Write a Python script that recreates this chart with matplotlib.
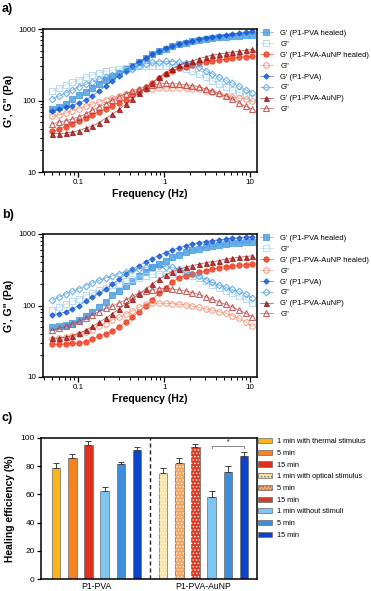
import matplotlib
matplotlib.use("Agg")
import numpy as np
from matplotlib import pyplot as plt
from matplotlib.patches import Patch

plt.rcParams['font.family'] = ['Liberation Sans', 'DejaVu Sans']
plt.rcParams['hatch.linewidth'] = 0.6

# frequency sweep (Hz)
freq = [0.05, 0.0598, 0.0714, 0.0854, 0.102, 0.122, 0.146, 0.174, 0.208, 0.249,
        0.298, 0.356, 0.425, 0.508, 0.608, 0.726, 0.868, 1.04, 1.24, 1.48,
        1.77, 2.12, 2.53, 3.03, 3.62, 4.32, 5.17, 6.18, 7.38, 8.83, 10.5]

# panel a
a_gp_healed = [75, 80, 90, 105, 118, 132, 150, 170, 195, 220, 245, 275, 305, 345, 390, 440,
               490, 530, 570, 610, 645, 680, 710, 735, 755, 770, 785, 800, 810, 820, 830]
a_gpp_healed = [135, 150, 165, 180, 195, 212, 228, 243, 255, 265, 277, 287, 295, 300, 303, 305,
                305, 302, 298, 290, 275, 255, 232, 210, 190, 172, 156, 142, 130, 120, 110]
a_gp_au_healed = [37, 40, 43, 47, 52, 57, 63, 69, 76, 85, 93, 103, 118, 133, 152, 175,
                  205, 233, 260, 282, 298, 315, 330, 343, 357, 368, 380, 390, 402, 410, 418]
a_gpp_au_healed = [60, 63, 67, 72, 77, 83, 89, 95, 103, 110, 117, 124, 131, 138, 143, 147,
                   149, 150, 150, 150, 149, 147, 143, 137, 130, 123, 117, 112, 107, 104, 99]
a_gp_pva = [72, 75, 80, 85, 92, 102, 116, 135, 160, 190, 222, 262, 305, 345, 390, 440,
            490, 535, 580, 620, 655, 690, 720, 750, 775, 800, 820, 845, 870, 895, 925]
a_gpp_pva = [105, 115, 127, 140, 155, 168, 182, 198, 214, 230, 246, 260, 280, 303, 325, 343,
             350, 352, 350, 345, 335, 320, 292, 262, 235, 212, 192, 175, 158, 142, 128]
a_gp_au = [34, 34.5, 35, 36, 38, 41, 44, 49, 56, 64, 75, 88, 106, 128, 150, 178,
           210, 245, 278, 310, 335, 358, 385, 408, 430, 445, 460, 472, 488, 502, 518]
a_gpp_au = [47, 50, 52, 55, 59, 65, 73, 81, 90, 101, 112, 124, 135, 147, 155, 163,
            170, 173, 172, 170, 167, 162, 155, 146, 136, 126, 116, 106, 92, 83, 76]

# panel b
b_gp_healed = [50, 52, 54, 57, 63, 71, 82, 95, 113, 138, 162, 190, 220, 258, 298, 340,
               380, 425, 470, 515, 555, 590, 620, 650, 676, 700, 720, 738, 753, 763, 772]
b_gpp_healed = [86, 95, 104, 115, 125, 138, 150, 163, 178, 192, 203, 218, 232, 246, 262, 272,
                278, 280, 280, 278, 270, 258, 240, 218, 196, 177, 162, 148, 136, 122, 108]
b_gp_au_healed = [29, 28.5, 29, 29.5, 30, 31, 34, 37, 40, 44, 50, 58, 69, 82, 98, 120,
                  150, 178, 212, 245, 262, 278, 292, 308, 322, 338, 350, 358, 366, 370, 376]
b_gpp_au_healed = [34, 35, 36, 37, 40, 43, 46, 51, 56, 63, 68, 76, 84, 94, 104, 108,
                   108, 107, 106, 104, 102, 98, 94, 89, 86, 82, 78, 72, 66, 59, 51]
b_gp_pva = [74, 77, 81, 89, 100, 114, 130, 148, 170, 198, 232, 272, 320, 360, 410, 450,
            500, 550, 595, 640, 685, 725, 760, 785, 808, 828, 850, 870, 888, 905, 918]
b_gpp_pva = [118, 131, 144, 158, 172, 190, 206, 225, 243, 258, 278, 295, 312, 328, 340, 350,
             352, 348, 340, 325, 300, 278, 255, 230, 210, 195, 180, 168, 158, 146, 128]
b_gp_au = [35, 35, 36, 38, 41, 45, 51, 58, 66, 77, 89, 106, 123, 145, 170, 200,
           232, 267, 297, 321, 342, 362, 378, 397, 410, 424, 443, 457, 472, 483, 496]
b_gpp_au = [45, 48, 51, 55, 60, 66, 74, 82, 91, 98, 108, 120, 135, 148, 158, 166,
            172, 174, 170, 165, 160, 151, 143, 133, 123, 113, 104, 96, 86, 78, 70]

rheo_labels = ["G' (P1-PVA healed)", 'G"', "G' (P1-PVA-AuNP healed)", 'G"',
               "G' (P1-PVA)", 'G"', "G' (P1-PVA-AuNP)", 'G"']
rheo_colors = ['#4a9de2', '#a6d3f5', '#ee3a1c', '#f28a6c',
               '#1456d4', '#4a9de2', '#9c1414', '#b73d3d']
rheo_markers = ['s', 's', 'o', 'o', 'D', 'D', '^', '^']
rheo_filled = [True, False, True, False, True, False, True, False]
rheo_sizes = [3.8, 4.0, 3.8, 4.0, 2.7, 3.4, 3.6, 4.0]

# panel c
groups = ['P1-PVA', 'P1-PVA-AuNP']
eff_pva = [78.6, 85.7, 95.2, 62.6, 81.4, 91.4]
err_pva = [3.5, 3.1, 2.9, 2.9, 1.9, 2.2]
eff_au = [75.5, 82.1, 93.6, 57.9, 75.7, 86.9]
err_au = [3.5, 3.9, 1.9, 4.2, 4.5, 3.1]
bar_labels = ['1 min with thermal stimulus', '5 min', '15 min',
              '1 min with optical stimulus', '5 min', '15 min',
              '1 min without stimuli', '5 min', '15 min']
thermal_colors = ['#fdb515', '#f7821e', '#e0301e']
optical_colors = ['#fbe3a6', '#f7a35c', '#dc3a22']
nostim_colors = ['#7cc4f2', '#3d8fdb', '#0b44c9']

fig = plt.figure(figsize=(3.71, 5.91), dpi=100)


def rheo_panel(ax, data):
    for y, lab, c, m, f, ms in zip(data, rheo_labels, rheo_colors, rheo_markers,
                                   rheo_filled, rheo_sizes):
        ax.plot(freq, y, color=c, lw=0.5, alpha=0.8, marker=m, ms=ms,
                mfc=c if f else 'none', mec=c, mew=0.8, label=lab)
    ax.set_xscale('log')
    ax.set_yscale('log')
    ax.set_xlim(0.039, 12.0)
    ax.set_ylim(10, 1000)
    ax.set_xticks([0.1, 1, 10])
    ax.set_xticklabels(['0.1', '1', '10'])
    ax.set_yticks([10, 100, 1000])
    ax.set_yticklabels(['10', '100', '1000'])
    ax.tick_params(which='major', length=3.5, width=0.9, labelsize=5.8, pad=1.5)
    ax.tick_params(which='minor', length=2, width=0.7)
    for s in ax.spines.values():
        s.set_linewidth(1.1)
    ax.set_xlabel('Frequency (Hz)', fontsize=7.6, fontweight='bold', labelpad=2)
    ax.set_ylabel('G\', G" (Pa)', fontsize=7.6, fontweight='bold', labelpad=3)
    ax.legend(loc='upper left', bbox_to_anchor=(1.012, 0.995), frameon=False,
              fontsize=5.5, handlelength=1.7, handletextpad=1.0,
              labelspacing=0.46, borderaxespad=0, borderpad=0)


ax_a = fig.add_axes([43 / 371, 1 - 172 / 591, 214 / 371, 143 / 591])
rheo_panel(ax_a, [a_gp_healed, a_gpp_healed, a_gp_au_healed, a_gpp_au_healed,
                  a_gp_pva, a_gpp_pva, a_gp_au, a_gpp_au])
ax_b = fig.add_axes([43 / 371, 1 - 377 / 591, 214 / 371, 143 / 591])
rheo_panel(ax_b, [b_gp_healed, b_gpp_healed, b_gp_au_healed, b_gpp_au_healed,
                  b_gp_pva, b_gpp_pva, b_gp_au, b_gpp_au])

# bar panel
ax_c = fig.add_axes([41 / 371, 1 - 579 / 591, 216 / 371, 141 / 591])
pos1 = np.arange(6)
pos2 = np.arange(6) + 6.6
w = 0.53
cols1 = thermal_colors + nostim_colors
cols2 = optical_colors + nostim_colors
for i in range(6):
    ax_c.bar(pos1[i], eff_pva[i], w, color=cols1[i], edgecolor='#6a6a6a', lw=0.5, zorder=2)
    ax_c.errorbar(pos1[i], eff_pva[i], yerr=[[0], [err_pva[i]]], fmt='none',
                  ecolor='#404040', elinewidth=0.7, capsize=2, capthick=0.7, zorder=3)
for i in range(6):
    ax_c.bar(pos2[i], eff_au[i], w, color=cols2[i], edgecolor='#6a6a6a', lw=0.5,
             zorder=2)
    if i < 3:
        ax_c.bar(pos2[i], eff_au[i], w, color='none', edgecolor='#ffffff',
                 hatch='.....', lw=0, zorder=2.5)
    ax_c.errorbar(pos2[i], eff_au[i], yerr=[[0], [err_au[i]]], fmt='none',
                  ecolor='#404040', elinewidth=0.7, capsize=2, capthick=0.7, zorder=3)
ax_c.axvline(5.8, color='#222222', lw=1.0, ls=(0, (3, 2)))
# significance bracket
bx = [pos2[3], pos2[3], pos2[5], pos2[5]]
ax_c.plot(bx, [92.8, 94.5, 94.5, 92.8], color='#707070', lw=0.6)
ax_c.text((pos2[3] + pos2[5]) / 2, 94.8, '*', ha='center', va='bottom', fontsize=5)
ax_c.set_xlim(-0.93, 12.4)
ax_c.set_ylim(0, 100)
ax_c.set_xticks([2.5, 9.1])
ax_c.set_xticklabels(groups, fontsize=6.2)
ax_c.set_yticks([0, 20, 40, 60, 80, 100])
ax_c.tick_params(axis='x', length=0, pad=2)
ax_c.tick_params(axis='y', length=3, width=0.9, labelsize=6, pad=1.5)
for s in ax_c.spines.values():
    s.set_linewidth(1.1)
ax_c.set_ylabel('Healing efficiency (%)', fontsize=7.4, fontweight='bold', labelpad=4)

handles = []
for c in thermal_colors:
    handles.append(Patch(facecolor=c, edgecolor='#6a6a6a', lw=0.5))
for c in optical_colors:
    handles.append(Patch(facecolor=c, edgecolor='#6a6a6a', lw=0.5, hatch='.....'))
for c in nostim_colors:
    handles.append(Patch(facecolor=c, edgecolor='#6a6a6a', lw=0.5))
ax_c.legend(handles, bar_labels, loc='upper left', bbox_to_anchor=(1.005, 1.0),
            frameon=False, fontsize=5.3, handlelength=1.9, handleheight=0.7,
            handletextpad=0.7, labelspacing=0.62, borderaxespad=0, borderpad=0)

fig.text(2 / 371, 1 - 9 / 591, 'a)', fontsize=9, fontweight='bold', va='center')
fig.text(2 / 371, 1 - 215 / 591, 'b)', fontsize=9, fontweight='bold', va='center')
fig.text(2 / 371, 1 - 418 / 591, 'c)', fontsize=9, fontweight='bold', va='center')

fig.savefig('out.png', dpi=100)
